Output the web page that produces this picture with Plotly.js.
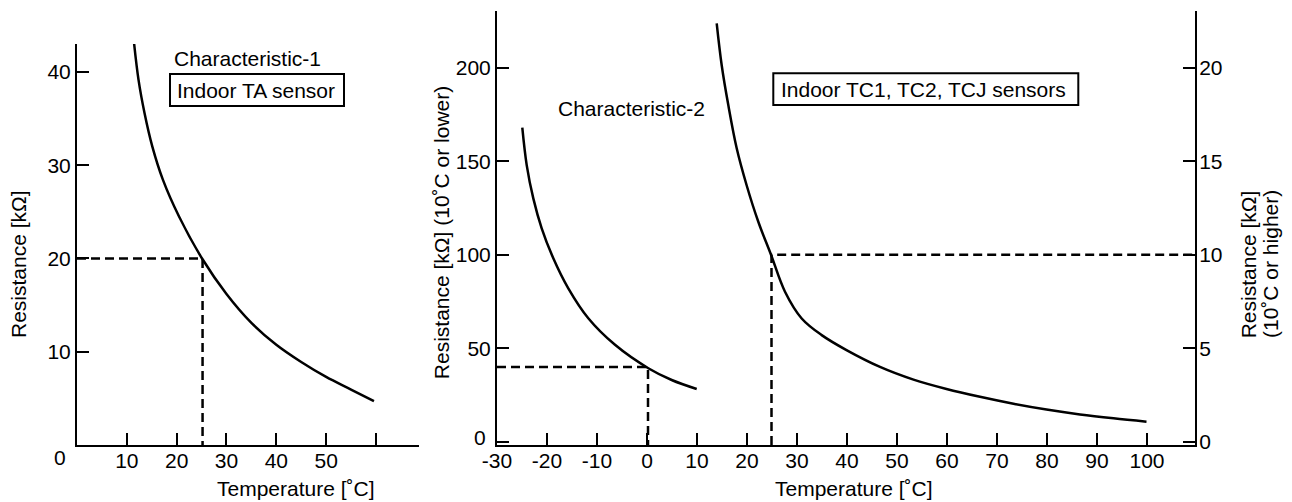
<!DOCTYPE html>
<html>
<head>
<meta charset="utf-8">
<script src="https://cdn.plot.ly/plotly-3.0.1.min.js"></script>
<style>html,body{margin:0;padding:0;background:#fff;}#chart{width:1292px;height:502px;}</style>
</head>
<body>
<div id="chart"></div>
<script>
// ---- Data ----
// Characteristic-1 : Indoor TA sensor
const taTemp = [11.35, 12.35, 13.55, 15.12, 17.27, 20.48, 25.1, 30.0, 35.0, 40.0, 45.0, 50.0, 55.0, 59.6];
const taRes  = [43.6, 39.15, 35.6, 32.0, 28.4, 24.5, 20.0, 16.2, 13.1, 10.75, 8.9, 7.3, 5.95, 4.7];

// Characteristic-2 : 10°C or lower (left scale, kΩ)
const lowTemp = [-24.94, -24.06, -22.74, -21.06, -18.74, -15.74, -11.74, -6.4, 0.26, 4.94, 9.94];
const lowRes  = [167.9, 147.9, 130.1, 114.1, 98.1, 82.0, 66.0, 51.8, 39.3, 33.0, 28.2];

// Characteristic-2 : 10°C or higher (right scale, kΩ)
const highTemp = [13.94, 14.94, 16.26, 17.94, 19.94, 22.26, 24.8, 27.6, 30.94, 34.94, 39.9, 46.6, 53.3, 59.9, 66.6, 73.3, 79.9, 86.6, 93.3, 99.9];
const highRes  = [22.37, 20.13, 18.0, 15.69, 13.7, 11.76, 10.0, 8.02, 6.59, 5.7, 4.9, 4.0, 3.32, 2.82, 2.40, 2.03, 1.72, 1.46, 1.25, 1.07];

// Reference (dashed) lines
const ref1Temp = [0, 25.2, 25.2];     const ref1Res = [20, 20, 0];
const ref2Temp = [-30, 0.2, 0.2];     const ref2Res = [40, 40, -1.76];
const ref3Temp = [24.9, 24.9, 109.6]; const ref3Res = [-1.76, 100, 100];

// Tick labels
const x1Ticks = [10, 20, 30, 40, 50, 60];
const x1Text  = ['10', '20', '30', '40', '50', ''];
const y1Ticks = [10, 20, 30, 40];
const x2Ticks = [-30, -20, -10, 0, 10, 20, 30, 40, 50, 60, 70, 80, 90, 100];
const y2Ticks = [0, 50, 100, 150, 200];
const y2Text  = ['', '50', '100', '150', '200'];
const y3Ticks = [0, 5, 10, 15, 20];

// ---- Layout helpers ----
const W = 1292, H = 502;
const px = v => v / W;
const py = v => 1 - v / H;
const FONT = 'Liberation Sans, Arial, Helvetica, sans-serif';
const FS = 21;

const curve = {color: '#000', width: 2.5, shape: 'spline', smoothing: 1};
const dashed = {color: '#000', width: 2.5, dash: '9px,5px'};

const traces = [
  {x: taTemp, y: taRes, xaxis: 'x', yaxis: 'y', mode: 'lines', line: curve, hoverinfo: 'skip'},
  {x: ref1Temp, y: ref1Res, xaxis: 'x', yaxis: 'y', mode: 'lines', line: dashed, hoverinfo: 'skip'},
  {x: lowTemp, y: lowRes, xaxis: 'x2', yaxis: 'y2', mode: 'lines', line: curve, hoverinfo: 'skip'},
  {x: ref2Temp, y: ref2Res, xaxis: 'x2', yaxis: 'y2', mode: 'lines', line: dashed, hoverinfo: 'skip'},
  {x: ref3Temp, y: ref3Res, xaxis: 'x2', yaxis: 'y2', mode: 'lines', line: dashed, hoverinfo: 'skip'},
  {x: highTemp, y: highRes, xaxis: 'x2', yaxis: 'y3', mode: 'lines', line: curve, hoverinfo: 'skip'}
];

const axBase = {
  showline: true, linecolor: '#000', linewidth: 2,
  ticks: 'inside', ticklen: 12, tickwidth: 2, tickcolor: '#000',
  showgrid: false, zeroline: false, fixedrange: true,
  tickfont: {family: FONT, size: FS, color: '#000'}
};

const layout = {
  width: W, height: H,
  margin: {l: 0, r: 0, t: 0, b: 0, pad: 0},
  paper_bgcolor: '#fff', plot_bgcolor: 'rgba(0,0,0,0)',
  showlegend: false,
  font: {family: FONT, size: FS, color: '#000'},
  xaxis: Object.assign({}, axBase, {
    domain: [px(77), px(419.3)], range: [0, 68.7], anchor: 'y',
    tickmode: 'array', tickvals: x1Ticks, ticktext: x1Text, ticklabelstandoff: -4
  }),
  yaxis: Object.assign({}, axBase, {
    domain: [1 - 445 / H, 1 - 44 / H], range: [0, 43], anchor: 'x',
    tickmode: 'array', tickvals: y1Ticks, ticktext: y1Ticks.map(String)
  }),
  xaxis2: Object.assign({}, axBase, {
    domain: [px(497), px(1195)], range: [-30, 109.6], anchor: 'y2',
    tickmode: 'array', tickvals: x2Ticks, ticktext: x2Ticks.map(String), ticklabelstandoff: -4
  }),
  yaxis2: Object.assign({}, axBase, {
    domain: [1 - 445 / H, 1 - 11 / H], range: [-1.76, 230.3], anchor: 'x2',
    tickmode: 'array', tickvals: y2Ticks, ticktext: y2Text
  }),
  yaxis3: Object.assign({}, axBase, {
    domain: [1 - 445 / H, 1 - 11 / H], range: [-0.176, 23.03], anchor: 'x2',
    overlaying: 'y2', side: 'right', ticklabelstandoff: -2,
    tickmode: 'array', tickvals: y3Ticks, ticktext: y3Ticks.map(String)
  }),
  shapes: [
    {type: 'rect', xref: 'paper', yref: 'paper', x0: px(170), x1: px(344), y0: py(74), y1: py(106),
     line: {color: '#000', width: 2}, fillcolor: 'rgba(0,0,0,0)'},
    {type: 'rect', xref: 'paper', yref: 'paper', x0: px(773.3), x1: px(1078.3), y0: py(73.3), y1: py(105),
     line: {color: '#000', width: 2}, fillcolor: 'rgba(0,0,0,0)'}
  ],
  annotations: [
    {text: '0', xref: 'paper', yref: 'paper', x: px(68), y: py(457), xanchor: 'right', yanchor: 'middle', showarrow: false},
    {text: '0', xref: 'paper', yref: 'paper', x: px(488), y: py(437), xanchor: 'right', yanchor: 'middle', showarrow: false},
    {text: 'Characteristic-1', xref: 'paper', yref: 'paper', x: px(172), y: py(58), xanchor: 'left', yanchor: 'middle', showarrow: false},
    {text: 'Indoor TA sensor', xref: 'paper', yref: 'paper', x: px(175), y: py(90), xanchor: 'left', yanchor: 'middle', showarrow: false},
    {text: 'Characteristic-2', xref: 'paper', yref: 'paper', x: px(556), y: py(108), xanchor: 'left', yanchor: 'middle', showarrow: false},
    {text: 'Indoor TC1, TC2, TCJ sensors', xref: 'paper', yref: 'paper', x: px(779), y: py(89), xanchor: 'left', yanchor: 'middle', showarrow: false},
    {text: 'Temperature [˚C]', xref: 'paper', yref: 'paper', x: px(296), y: py(488), xanchor: 'center', yanchor: 'middle', showarrow: false},
    {text: 'Temperature [˚C]', xref: 'paper', yref: 'paper', x: px(854), y: py(488), xanchor: 'center', yanchor: 'middle', showarrow: false},
    {text: 'Resistance [kΩ]', xref: 'paper', yref: 'paper', x: px(18), y: py(264), xanchor: 'center', yanchor: 'middle', textangle: -90, showarrow: false},
    {text: 'Resistance [kΩ] (10˚C or lower)', xref: 'paper', yref: 'paper', x: px(441.7), y: py(232.5), xanchor: 'center', yanchor: 'middle', textangle: -90, showarrow: false},
    {text: 'Resistance [kΩ]', xref: 'paper', yref: 'paper', x: px(1248.3), y: py(264), xanchor: 'center', yanchor: 'middle', textangle: -90, showarrow: false},
    {text: '(10˚C or higher)', xref: 'paper', yref: 'paper', x: px(1270), y: py(264), xanchor: 'center', yanchor: 'middle', textangle: -90, showarrow: false}
  ]
};

Plotly.newPlot('chart', traces, layout, {staticPlot: true, displayModeBar: false});
</script>
</body>
</html>
